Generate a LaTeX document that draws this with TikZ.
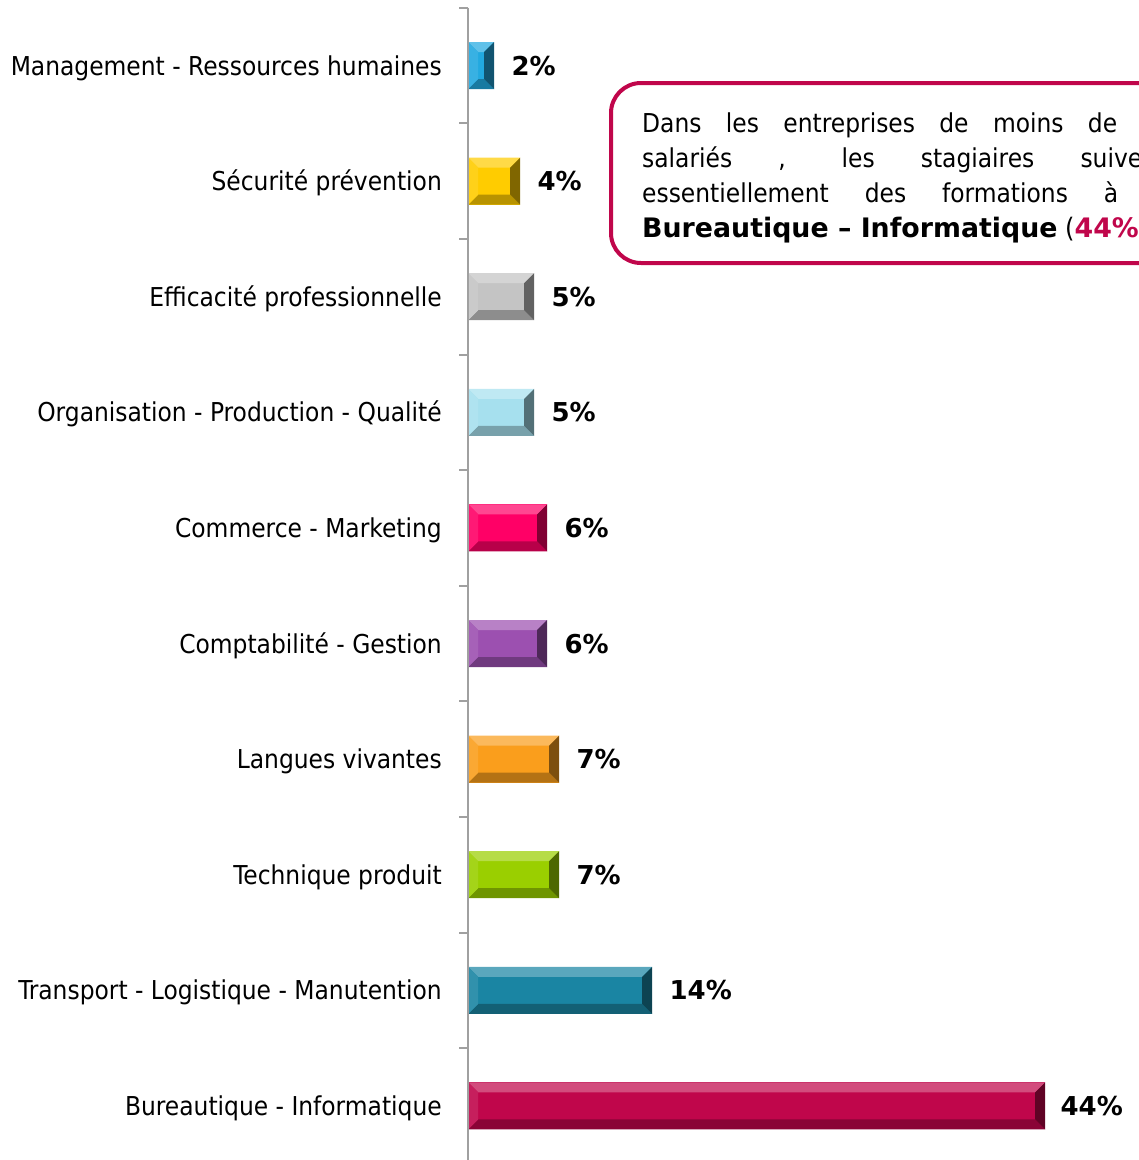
\documentclass[tikz,border=0pt]{standalone}
\usepackage{fontspec}
\setmainfont{DejaVu Sans Condensed}[BoldFont = DejaVu Sans Bold]
\usepackage{xcolor}
\usepackage{tikz}
\usetikzlibrary{positioning}

\definecolor{bleuciel}{HTML}{22A9E0}
\definecolor{jaune}{HTML}{FFCC00}
\definecolor{gris}{HTML}{C4C4C4}
\definecolor{bleupale}{HTML}{A6E0EE}
\definecolor{rose}{HTML}{FF0066}
\definecolor{violet}{HTML}{9C50B0}
\definecolor{orange}{HTML}{FA9E1C}
\definecolor{vert}{HTML}{9ACF00}
\definecolor{bleucanard}{HTML}{1A85A3}
\definecolor{framboise}{HTML}{C0064B}
\definecolor{axegris}{HTML}{A0A0A0}

\begin{document}
\begin{tikzpicture}[
    x=1pt, y=-1pt,
    barre/.style={rectangle, anchor=west, inner sep=0pt, minimum height=47pt, fill=#1,
        path picture={
            \fill[#1!72!white] (path picture bounding box.north west) -- (path picture bounding box.north east)
                -- ([shift={(-10pt,-10pt)}]path picture bounding box.north east)
                -- ([shift={(10pt,-10pt)}]path picture bounding box.north west) -- cycle;
            \fill[#1!72!black] (path picture bounding box.south west) -- (path picture bounding box.south east)
                -- ([shift={(-10pt,10pt)}]path picture bounding box.south east)
                -- ([shift={(10pt,10pt)}]path picture bounding box.south west) -- cycle;
            \fill[#1!90!white] (path picture bounding box.north west) -- ([shift={(10pt,-10pt)}]path picture bounding box.north west)
                -- ([shift={(10pt,10pt)}]path picture bounding box.south west) -- (path picture bounding box.south west) -- cycle;
            \fill[#1!50!black] (path picture bounding box.north east) -- ([shift={(-10pt,-10pt)}]path picture bounding box.north east)
                -- ([shift={(-10pt,10pt)}]path picture bounding box.south east) -- (path picture bounding box.south east) -- cycle;
        }},
    cat/.style={inner sep=0pt, text height=24pt, text depth=5pt, font=\fontsize{26}{30}\selectfont},
    pct/.style={inner sep=0pt, text height=24pt, text depth=5pt, font=\fontsize{26}{30}\selectfont\bfseries},
    axe/.style={draw=axegris, line width=2pt},
    encadre/.style={draw=framboise, line width=4pt, rounded corners=30pt}
]
\useasboundingbox (0,0) rectangle (1139,1160);
\clip (0,0) rectangle (1139,1160);

% Barres
\node[barre=bleuciel, minimum width=26pt] (B1) at (468,65.5) {};
\node[barre=jaune, minimum width=52pt] (B2) at (468,181.1) {};
\node[barre=gris, minimum width=66pt] (B3) at (468,296.7) {};
\node[barre=bleupale, minimum width=66pt] (B4) at (468,412.3) {};
\node[barre=rose, minimum width=79pt] (B5) at (468,527.9) {};
\node[barre=violet, minimum width=79pt] (B6) at (468,643.5) {};
\node[barre=orange, minimum width=91pt] (B7) at (468,759.1) {};
\node[barre=vert, minimum width=91pt] (B8) at (468,874.7) {};
\node[barre=bleucanard, minimum width=184pt] (B9) at (468,990.3) {};
\node[barre=framboise, minimum width=577pt] (B10) at (468,1105.9) {};

% Axe et graduations
\draw[axe] (468,7.7) -- (468,1165);
\foreach \k in {0,...,9}
    \draw[axe] (459,7.7+115.6*\k) -- (468,7.7+115.6*\k);

% Catégories
\node[cat, left=26pt of B1] (C1) {Management - Ressources humaines};
\node[cat, left=26pt of B2] (C2) {Sécurité prévention};
\node[cat, left=26pt of B3] (C3) {Efficacité professionnelle};
\node[cat, left=26pt of B4] (C4) {Organisation - Production - Qualité};
\node[cat, left=26pt of B5] (C5) {Commerce - Marketing};
\node[cat, left=26pt of B6] (C6) {Comptabilité - Gestion};
\node[cat, left=26pt of B7] (C7) {Langues vivantes};
\node[cat, left=26pt of B8] (C8) {Technique produit};
\node[cat, left=26pt of B9] (C9) {Transport - Logistique - Manutention};
\node[cat, left=26pt of B10] (C10) {Bureautique - Informatique};

% Pourcentages
\node[pct, right=17pt of B1] (P1) {2\%};
\node[pct, right=17pt of B2] (P2) {4\%};
\node[pct, right=17pt of B3] (P3) {5\%};
\node[pct, right=17pt of B4] (P4) {5\%};
\node[pct, right=17pt of B5] (P5) {6\%};
\node[pct, right=17pt of B6] (P6) {6\%};
\node[pct, right=17pt of B7] (P7) {7\%};
\node[pct, right=17pt of B8] (P8) {7\%};
\node[pct, right=17pt of B9] (P9) {14\%};
\node[pct, right=15pt of B10] (P10) {44\%};

% Encadré
\draw[encadre] (611,83) rectangle (1190,263);
\node[anchor=base west, inner sep=0pt, align=left, font=\fontsize{26}{35}\selectfont] (T) at (642,237)
    {\makebox[475pt][s]{Dans les entreprises de moins de}\\
     \makebox[500pt][s]{salariés , les stagiaires suive}\\
     \makebox[476pt][s]{essentiellement des formations à}\\
     {\fontsize{26.8}{35}\selectfont\textbf{Bureautique – Informatique} (\textcolor{framboise}{\textbf{44\%}}}};

\end{tikzpicture}
\end{document}
